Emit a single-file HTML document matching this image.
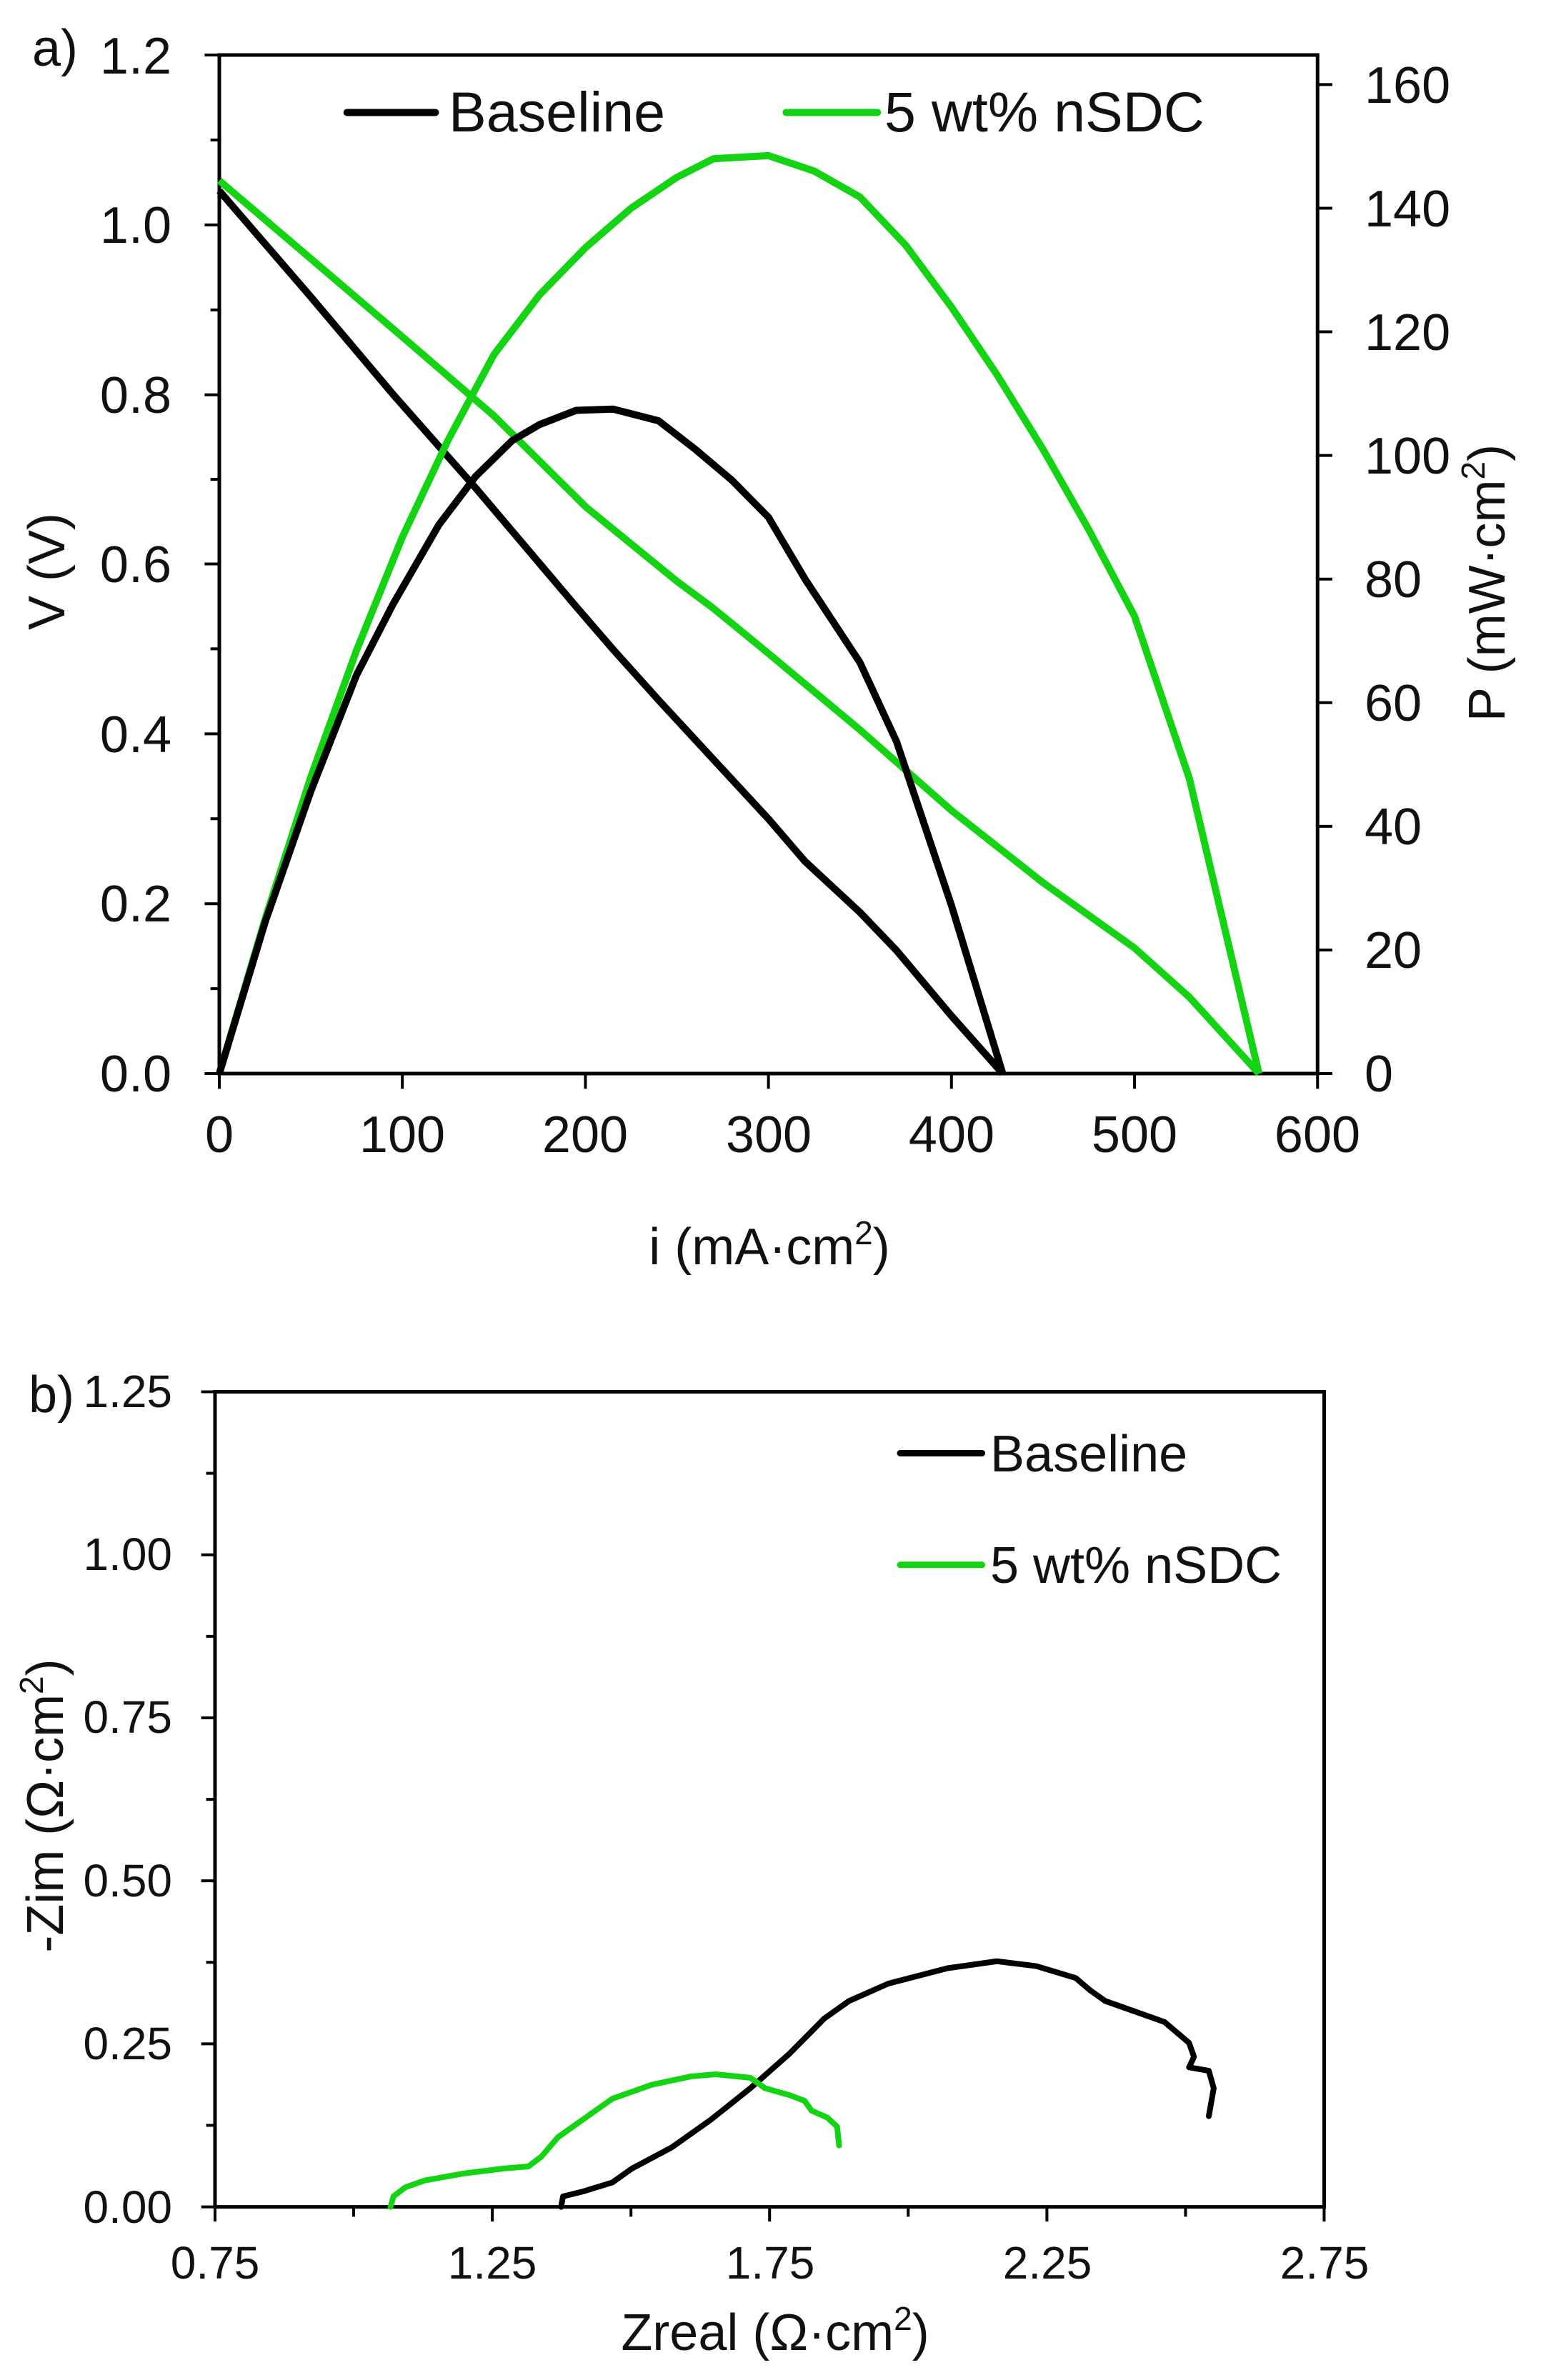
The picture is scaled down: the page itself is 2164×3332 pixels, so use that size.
<!DOCTYPE html>
<html><head><meta charset="utf-8"><style>
html,body{margin:0;padding:0;background:#fff}
svg{display:block}
text{font-family:"Liberation Sans",Arial,sans-serif;fill:#111}
.t{font-size:72px}
.s{font-size:64px}
.l{font-size:79px}
</style></head><body>
<svg width="2164" height="3332" viewBox="0 0 2164 3332" xmlns="http://www.w3.org/2000/svg">
<rect width="2164" height="3332" fill="#fff"/>
<!-- ===== Chart a ===== -->
<g transform="translate(4.5,1.1) scale(1.375,1.1167)">
  <rect x="220" y="68" width="1118" height="1277" fill="none" stroke="#000" stroke-width="5" vector-effect="non-scaling-stroke"/>
  <g stroke="#000" stroke-width="4">
    <path vector-effect="non-scaling-stroke" d="M205 1345H220M205 1132H220M205 919H220M205 706H220M205 494H220M205 281H220M205 68H220"/>
    <path vector-effect="non-scaling-stroke" d="M211 1238.5H220M211 1025.5H220M211 812.5H220M211 600H220M211 387.5H220M211 174.5H220"/>
    <path vector-effect="non-scaling-stroke" d="M220 1345V1364M406.3 1345V1364M592.7 1345V1364M779 1345V1364M965.3 1345V1364M1151.7 1345V1364M1338 1345V1364"/>
    <path vector-effect="non-scaling-stroke" d="M1338 1345H1353M1338 1190H1353M1338 1035H1353M1338 880H1353M1338 725H1353M1338 570H1353M1338 415H1353M1338 260H1353M1338 105H1353"/>
    <path vector-effect="non-scaling-stroke" stroke-width="10" stroke-linecap="round" d="M350 140H440"/>
    <path vector-effect="non-scaling-stroke" stroke-width="10" stroke="#13d313" stroke-linecap="round" d="M797 140H890"/>
  </g>
  <!-- V curves -->
  <g transform="translate(220,1345) scale(1.8633,-1064.2)" fill="none" stroke-width="10" stroke-linejoin="round">
    <polyline vector-effect="non-scaling-stroke" stroke="#13d313" points="0,1.052 50,0.96 100,0.868 150,0.775 200,0.668 250,0.58 270,0.548 300,0.495 350,0.405 400,0.31 450,0.225 500,0.148 530,0.09 568,0"/>
    <polyline vector-effect="non-scaling-stroke" stroke="#000" points="0,1.04 50,0.915 95,0.80 140,0.69 195,0.55 215,0.50 240,0.44 300,0.30 320,0.25 350,0.19 370,0.145 400,0.068 428,0"/>
  </g>
  <!-- P curves -->
  <g transform="translate(220,1345) scale(1.8633,-7.75)" fill="none" stroke-width="10" stroke-linejoin="round">
    <polyline vector-effect="non-scaling-stroke" stroke="#13d313" points="0,0 25,25 50,48 75,68.5 100,86.8 125,102.5 150,116.3 175,126 200,133.6 225,140 250,145 270,148 300,148.5 325,146 350,141.8 375,134 400,124 425,113 450,101 475,88 500,74 530,47.7 568,0"/>
    <polyline vector-effect="non-scaling-stroke" stroke="#000" points="0,0 25,24.5 50,45.7 75,64.5 95,76 120,88.8 140,96.6 160,102.4 175,105 195,107.3 215,107.5 240,105.6 260,101 280,96 300,90 320,80 350,66.5 370,53.7 400,27.2 428,0"/>
  </g>
</g>
<!-- a text -->
<text class="t" x="45" y="92">a)</text>
<g class="t" text-anchor="end">
  <text x="240" y="103">1.2</text>
  <text x="240" y="340">1.0</text>
  <text x="240" y="578">0.8</text>
  <text x="240" y="815">0.6</text>
  <text x="240" y="1053">0.4</text>
  <text x="240" y="1290">0.2</text>
  <text x="240" y="1528">0.0</text>
</g>
<g class="t" text-anchor="middle">
  <text x="307" y="1613">0</text>
  <text x="563" y="1613">100</text>
  <text x="819" y="1613">200</text>
  <text x="1076" y="1613">300</text>
  <text x="1332" y="1613">400</text>
  <text x="1588" y="1613">500</text>
  <text x="1844" y="1613">600</text>
</g>
<g class="t">
  <text x="1910" y="1528">0</text>
  <text x="1910" y="1355">20</text>
  <text x="1910" y="1182">40</text>
  <text x="1910" y="1009">60</text>
  <text x="1910" y="836">80</text>
  <text x="1910" y="663">100</text>
  <text x="1910" y="490">120</text>
  <text x="1910" y="317">140</text>
  <text x="1910" y="144">160</text>
</g>
<text class="t" x="1077" y="1770" text-anchor="middle">i (mA·cm<tspan font-size="46" dy="-28">2</tspan><tspan dy="28">)</tspan></text>
<text class="t" transform="translate(90,800) rotate(-90)" text-anchor="middle">V (V)</text>
<text class="t" transform="translate(2106,816) rotate(-90)" text-anchor="middle">P (mW·cm<tspan font-size="46" dy="-28">2</tspan><tspan dy="28">)</tspan></text>
<text class="l" x="628" y="184">Baseline</text>
<text class="l" x="1238" y="184">5 wt% nSDC</text>

<!-- ===== Chart b ===== -->
<g transform="translate(1.5,1800) scale(1.38,0.977)">
  <rect x="217" y="152" width="1125" height="1168" fill="none" stroke="#000" stroke-width="5" vector-effect="non-scaling-stroke"/>
  <g stroke="#000" stroke-width="4">
    <path vector-effect="non-scaling-stroke" d="M203 1320H217M203 1086.4H217M203 852.8H217M203 619.2H217M203 385.6H217M203 152H217"/>
    <path vector-effect="non-scaling-stroke" d="M208 1203.2H217M208 969.6H217M208 736H217M208 502.4H217M208 268.8H217"/>
    <path vector-effect="non-scaling-stroke" d="M217 1320V1341M498.3 1320V1341M779.5 1320V1341M1060.8 1320V1341M1342 1320V1341"/>
    <path vector-effect="non-scaling-stroke" d="M357.6 1320V1334M638.9 1320V1334M920.1 1320V1334M1201.4 1320V1334"/>
    <path vector-effect="non-scaling-stroke" stroke-width="9" stroke-linecap="round" d="M912 240H995"/>
    <path vector-effect="non-scaling-stroke" stroke-width="9" stroke="#13d313" stroke-linecap="round" d="M912 400H995"/>
  </g>
  <g fill="none" stroke-width="8" stroke-linejoin="round" stroke-linecap="round">
    <polyline vector-effect="non-scaling-stroke" stroke="#000" points="568,1320 570,1305 590,1298 620,1285 640,1265 680,1235 720,1195 760,1150 800,1100 835,1050 860,1025 900,1000 960,978 1010,968 1050,975 1090,992 1105,1010 1120,1025 1150,1040 1180,1055 1205,1085 1210,1105 1205,1120 1225,1125 1230,1150 1225,1190"/>
    <polyline vector-effect="non-scaling-stroke" stroke="#13d313" points="395,1320 398,1305 410,1292 430,1282 470,1272 510,1265 535,1262 548,1248 565,1220 590,1195 620,1165 660,1145 700,1133 725,1130 760,1135 775,1150 800,1160 815,1168 822,1182 838,1192 848,1205 850,1232"/>
  </g>
</g>
<!-- b text -->
<text class="t" x="40" y="1977">b)</text>
<g class="s" text-anchor="end">
  <text x="241" y="1970">1.25</text>
  <text x="241" y="2198">1.00</text>
  <text x="241" y="2426">0.75</text>
  <text x="241" y="2655">0.50</text>
  <text x="241" y="2883">0.25</text>
  <text x="241" y="3112">0.00</text>
</g>
<g class="s" text-anchor="middle">
  <text x="301" y="3190">0.75</text>
  <text x="689" y="3190">1.25</text>
  <text x="1078" y="3190">1.75</text>
  <text x="1466" y="3190">2.25</text>
  <text x="1854" y="3190">2.75</text>
</g>
<text class="t" x="1085" y="3290" text-anchor="middle">Zreal (Ω·cm<tspan font-size="46" dy="-28">2</tspan><tspan dy="28">)</tspan></text>
<text class="t" transform="translate(88,2528) rotate(-90)" text-anchor="middle">-Zim (Ω·cm<tspan font-size="46" dy="-28">2</tspan><tspan dy="28">)</tspan></text>
<text class="t" x="1386" y="2060">Baseline</text>
<text class="t" x="1386" y="2216">5 wt% nSDC</text>
</svg>
</body></html>
